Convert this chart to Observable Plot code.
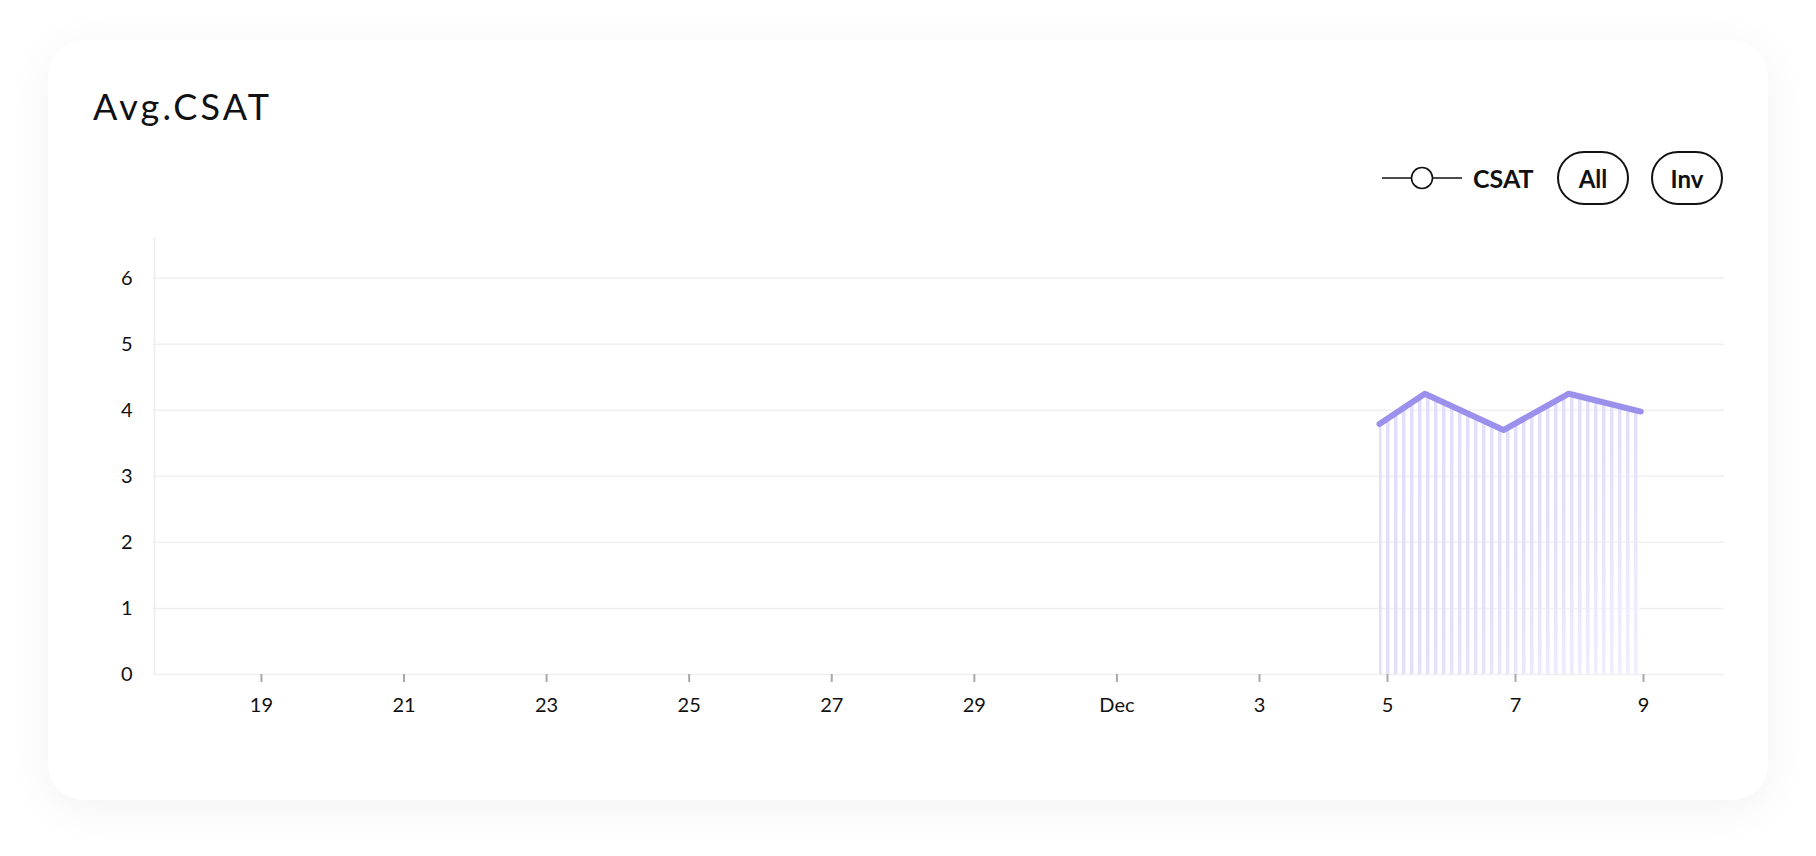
<!DOCTYPE html>
<html>
<head>
<meta charset="utf-8">
<script src="https://cdn.jsdelivr.net/npm/d3@7"></script>
<script src="https://cdn.jsdelivr.net/npm/@observablehq/plot@0.6"></script>
<style>
  html, body { margin: 0; padding: 0; background: #ffffff; width: 1816px; height: 856px; overflow: hidden; font-family: Lato, "Open Sans", sans-serif; color: #111; }
  #card { position: absolute; left: 48px; top: 40px; width: 1720px; height: 760px; border-radius: 36px; background: #fff; box-shadow: 0 8px 44px rgba(0,0,0,0.055); }
  #title { position: absolute; left: 93px; top: 88px; font-size: 36px; line-height: 36px; letter-spacing: 3.2px; font-weight: 400; white-space: nowrap; }
  #legend { position: absolute; left: 1382px; top: 151px; height: 54px; display: flex; align-items: center; }
  #legend span { margin-left: 11px; font-size: 25px; font-weight: 700; }
  .btn { position: absolute; top: 151px; width: 72px; height: 54px; box-sizing: border-box; border: 2px solid #111; border-radius: 27px; display: flex; align-items: center; justify-content: center; font-size: 24px; font-weight: 700; }
  #chart { position: absolute; left: 0; top: 200px; }
</style>
</head>
<body>
<div id="card"></div>
<div id="title">Avg.CSAT</div>
<div id="legend">
  <svg width="80" height="24" viewBox="0 0 80 24"><line x1="0" y1="12" x2="80" y2="12" stroke="#111" stroke-width="1.6"/><circle cx="40" cy="12" r="10.5" fill="#fff" stroke="#111" stroke-width="1.6"/></svg>
  <span>CSAT</span>
</div>
<div class="btn" style="left:1557px">All</div>
<div class="btn" style="left:1651px">Inv</div>
<div id="chart"></div>
<script>
// ---- data ----
const csatDates = ["2023-12-04T21:00Z", "2023-12-05T14:00Z", "2023-12-06T19:30Z", "2023-12-07T20:00Z", "2023-12-08T23:00Z"];
const csatValues = [3.79, 4.25, 3.70, 4.25, 3.98];
const xTickDates = ["2023-11-19", "2023-11-21", "2023-11-23", "2023-11-25", "2023-11-27", "2023-11-29", "2023-12-01", "2023-12-03", "2023-12-05", "2023-12-07", "2023-12-09"];
const xTickLabels = ["19", "21", "23", "25", "27", "29", "Dec", "3", "5", "7", "9"];
const yTicks = [0, 1, 2, 3, 4, 5, 6];
const yTickLabels = ["0", "1", "2", "3", "4", "5", "6"];
const yMax = 6.66;
const xDomain = ["2023-11-17T12:00Z", "2023-12-03T00:00Z", "2023-12-10T06:00Z"];

const data = csatDates.map((d, i) => ({date: new Date(d), value: csatValues[i]}));
const tickDates = xTickDates.map(d => new Date(d + "T00:00Z"));
const domainDates = xDomain.map(d => new Date(d));

const W = 1816, H = 560;
const plot = Plot.plot({
  width: W,
  height: H,
  marginLeft: 153,
  marginRight: 92,
  marginTop: 34,
  marginBottom: 86,
  style: {fontFamily: "Lato, 'Open Sans', sans-serif", fontSize: "20px", color: "#111", background: "transparent", overflow: "visible"},
  x: {type: "utc", domain: domainDates, range: [154, 1259, 1723], label: null},
  y: {domain: [0, yMax], label: null},
  marks: [
    Plot.gridY(yTicks, {stroke: "#efefef", strokeOpacity: 1, strokeWidth: 1.5}),
    Plot.ruleX([domainDates[0]], {y1: 0, y2: yMax, stroke: "#ececec", strokeWidth: 1.5, insetBottom: -3}),
    Plot.axisY(yTicks, {tickSize: 0, tickPadding: 21, fontSize: 20, fill: "#111", label: null,
      tickFormat: d => yTickLabels[yTicks.indexOf(d)]}),
    Plot.axisX(tickDates, {
      tickSize: 8, tickPadding: 15, fontSize: 20, stroke: "#a8a8a8", strokeWidth: 2, fill: "#111", label: null,
      tickFormat: d => xTickLabels[tickDates.findIndex(t => +t === +d)]
    }),
    Plot.areaY(data, {x: "date", y: "value", fill: "url(#csatStripes)"}),
    Plot.areaY(data, {x: "date", y: "value", fill: "url(#csatFade)"}),
    Plot.line(data, {x: "date", y: "value", stroke: "#9b90ec", strokeWidth: 6, strokeLinecap: "round", strokeLinejoin: "round"})
  ]
});

// pattern + fade definitions
const ns = "http://www.w3.org/2000/svg";
const defs = document.createElementNS(ns, "defs");
defs.innerHTML = `
  <pattern id="csatStripes" width="8" height="12" patternUnits="userSpaceOnUse" x="2">
    <rect x="0" y="0" width="3.5" height="12" fill="#e2defb"></rect>
  </pattern>
  <linearGradient id="csatFade" x1="0" y1="0" x2="1" y2="1">
    <stop offset="0" stop-color="#fff" stop-opacity="0"></stop>
    <stop offset="0.55" stop-color="#fff" stop-opacity="0.05"></stop>
    <stop offset="1" stop-color="#fff" stop-opacity="0.55"></stop>
  </linearGradient>`;
plot.insertBefore(defs, plot.firstChild);
document.getElementById("chart").appendChild(plot);
</script>
</body>
</html>
